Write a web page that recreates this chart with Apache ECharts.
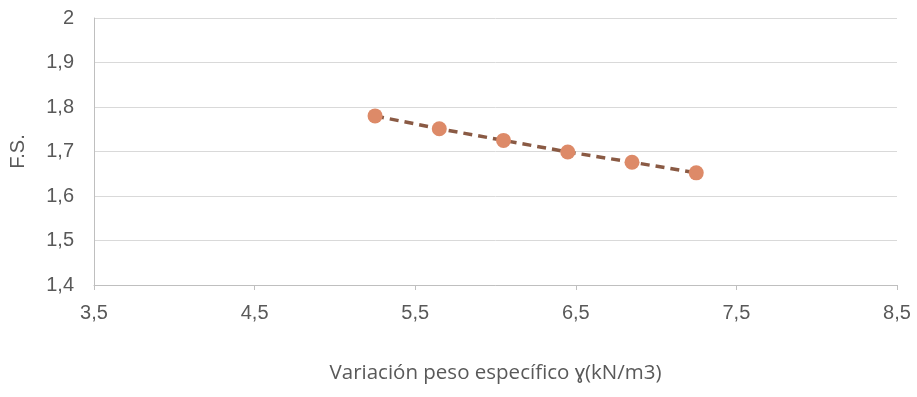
<!DOCTYPE html>
<html><head><meta charset="utf-8">
<script src="https://cdn.jsdelivr.net/npm/echarts@6/dist/echarts.min.js"></script>
<style>html,body{margin:0;padding:0;background:#fff}#c{width:917px;height:397px}</style>
</head><body><div id="c"></div>
<script>
var xValues = [5.25, 5.65, 6.05, 6.45, 6.85, 7.25];
var fsValues = [1.780, 1.751, 1.725, 1.699, 1.676, 1.652];
var xTitle = 'Variación peso específico ɣ(kN/m3)';
var yTitle = 'F.S.';
var data = xValues.map(function(x, i){ return [x, fsValues[i]]; });
var fmt = function(v){ return String(Math.round(v*10)/10).replace('.', ','); };
var tickFont = 'Liberation Sans, Arial, sans-serif';
var chart = echarts.init(document.getElementById('c'), null, {renderer:'canvas'});
chart.setOption({
  animation:false,
  grid:{left:93, right:20, top:18, bottom:112},
  xAxis:{type:'value', min:3.5, max:8.5, interval:1,
    axisLine:{show:true, lineStyle:{color:'#bfbfbf', width:1}},
    axisTick:{show:true, length:5, lineStyle:{color:'#bfbfbf'}},
    splitLine:{show:false},
    axisLabel:{formatter:fmt, color:'#595959', fontSize:20, fontFamily:tickFont, margin:18},
    name:xTitle, nameLocation:'middle', nameGap:78,
    nameTextStyle:{color:'#595959', fontSize:20.5, fontFamily:'Open Sans, sans-serif'}
  },
  yAxis:{type:'value', min:1.4, max:2, interval:0.1,
    axisLine:{show:true, lineStyle:{color:'#bfbfbf', width:1}},
    axisTick:{show:false},
    splitLine:{show:true, lineStyle:{color:'#d9d9d9', width:1}},
    axisLabel:{formatter:fmt, color:'#595959', fontSize:20, fontFamily:tickFont, margin:20},
    name:yTitle, nameLocation:'middle', nameGap:66, nameRotate:90,
    nameTextStyle:{color:'#595959', fontSize:20, fontFamily:tickFont}
  },
  series:[{type:'line', data:data, symbol:'circle', symbolSize:15,
    itemStyle:{color:'#dd8a68'},
    lineStyle:{color:'#8a5a44', width:3.5, type:[9,6]},
    z:2}]
});
</script></body></html>
